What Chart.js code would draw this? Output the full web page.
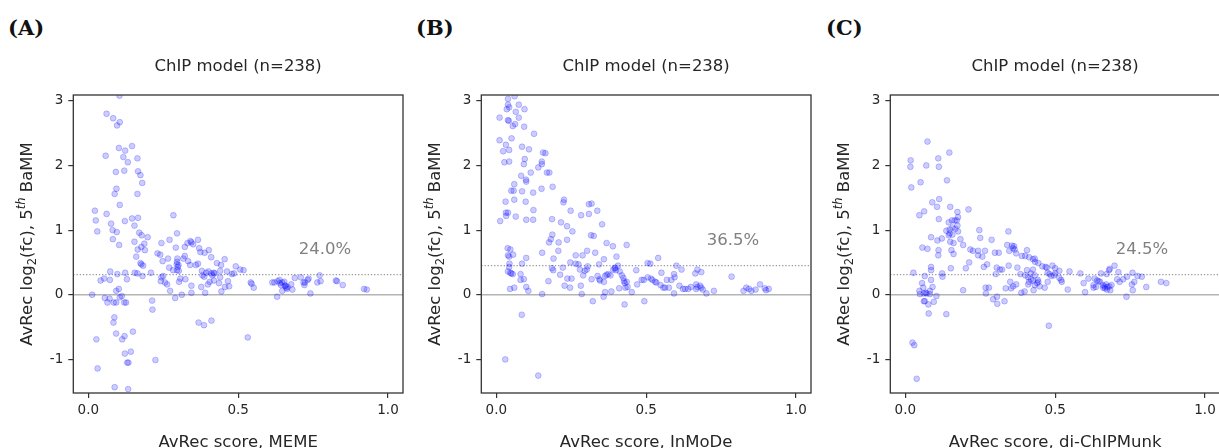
<!DOCTYPE html>
<html>
<head>
<meta charset="utf-8">
<script src="https://cdn.jsdelivr.net/npm/chart.js@4.4.0/dist/chart.umd.min.js"></script>
<style>
  html, body { margin: 0; padding: 0; background: #fff; }
  body { position: relative; width: 1219px; height: 448px; overflow: hidden; }
  canvas { position: absolute; top: 0; }
  .tag { position: absolute; top: 15px; line-height: 1; font: bold 21px "DejaVu Serif", serif; color: #111; }
</style>
</head>
<body>
<div class="tag" style="left:8px">(A)</div>
<div class="tag" style="left:416px">(B)</div>
<div class="tag" style="left:826px">(C)</div>
<canvas id="memeChart" width="408" height="460" style="left:0px"></canvas>
<canvas id="inmodeChart" width="408" height="460" style="left:408px"></canvas>
<canvas id="chipmunkChart" width="408" height="460" style="left:817px"></canvas>
<script>
// shared labels
const panelTitle = 'ChIP model (n=238)';
const xTitles = ['AvRec score, MEME', 'AvRec score, InMoDe', 'AvRec score, di-ChIPMunk'];
const thresholds = [0.31, 0.45, 0.31];
const shares = ['24.0%', '36.5%', '24.5%'];
const xTicks = [0, 0.5, 1.0];
const xTickLabels = ['0.0', '0.5', '1.0'];
const yTicks = [-1, 0, 1, 2, 3];

// (A) MEME
const memeX = [
  0.104,0.061,0.083,0.105,0.096,0.146,0.102,0.123,0.058,0.117,
  0.164,0.132,0.092,0.120,0.166,0.174,0.180,0.094,0.088,0.164,
  0.105,0.022,0.061,0.025,0.122,0.146,0.166,0.076,0.154,0.030,
  0.081,0.095,0.170,0.178,0.198,0.082,0.154,0.103,0.187,0.177,
  0.165,0.189,0.160,0.174,0.177,0.183,
  0.284,0.296,0.244,0.271,0.292,0.231,0.240,0.266,0.248,0.297,
  0.296,0.295,0.301,0.299,0.270,0.283,0.296,0.302,
  0.322,0.331,0.341,0.344,0.350,0.366,0.370,0.374,0.388,0.402,
  0.322,0.317,0.333,0.340,0.359,0.366,0.410,0.429,0.455,0.443,
  0.492,0.507,0.518,0.479,0.486,0.463,0.440,0.419,0.411,0.393,
  0.379,0.381,0.387,0.401,0.414,0.421,0.440,0.466,0.470,0.456,
  0.444,0.436,0.419,0.405,0.399,0.377,0.390,0.344,0.344,0.324,
  0.312,0.290,0.273,0.263,0.256,0.242,0.244,0.250,0.303,0.307,
  0.368,0.386,0.411,0.213,0.214,0.224,
  0.013,0.041,0.053,0.073,0.072,0.097,0.123,0.129,0.155,0.164,
  0.181,0.209,0.055,0.064,0.071,0.085,0.093,0.093,0.102,0.105,
  0.112,0.120,0.126,0.087,0.084,0.093,0.027,0.113,0.121,0.149,
  0.122,0.142,0.130,0.134,0.031,0.088,0.133,
  0.542,0.545,0.552,0.532,0.614,0.621,0.632,0.638,0.640,0.643,
  0.647,0.654,0.656,0.663,0.660,0.665,0.647,0.658,0.677,0.681,
  0.630,0.689,0.709,0.718,0.721,0.723,0.732,0.735,0.741,0.764,
  0.772,0.775,0.826,0.830,0.849,0.920,0.929
];
const memeY = [
  3.08,2.80,2.73,2.67,2.62,2.30,2.27,2.23,2.15,2.13,
  2.11,2.05,1.90,1.92,1.91,1.85,1.73,1.64,1.56,1.56,
  1.39,1.30,1.25,1.15,1.14,1.18,1.19,1.10,1.07,0.98,
  1.00,0.97,0.96,0.92,0.89,0.86,0.82,0.77,0.79,0.74,
  0.70,0.69,0.59,0.49,0.47,0.45,
  1.23,0.95,0.80,0.85,0.73,0.64,0.62,0.56,0.52,0.56,
  0.51,0.47,0.46,0.43,0.42,0.38,0.38,0.37,
  0.74,0.80,0.83,0.81,0.78,0.85,0.72,0.66,0.65,0.69,
  0.60,0.56,0.52,0.46,0.46,0.48,0.58,0.49,0.55,0.46,
  0.44,0.39,0.38,0.32,0.33,0.36,0.37,0.34,0.33,0.34,
  0.37,0.30,0.28,0.36,0.30,0.33,0.27,0.21,0.13,0.12,
  0.05,0.18,0.22,0.20,0.16,0.12,0.03,0.03,0.14,0.24,
  0.00,-0.05,0.06,0.16,0.19,0.21,0.27,0.29,0.20,0.25,
  -0.43,-0.47,-0.40,-0.09,-0.23,-1.01,
  0.00,0.22,0.25,0.36,0.23,0.32,0.34,0.24,0.34,0.33,
  0.29,0.34,-0.05,-0.12,-0.06,-0.12,-0.12,0.06,0.09,-0.04,
  -0.02,-0.12,-0.12,-0.35,-0.43,-0.60,-0.69,-0.69,-0.64,-0.57,
  -0.91,-0.88,-1.05,-1.05,-1.14,-1.43,-1.46,
  0.19,0.17,0.11,-0.66,0.19,0.19,0.21,0.23,0.18,0.15,
  0.19,0.20,0.14,0.09,0.11,0.12,0.06,0.14,0.16,0.08,
  -0.03,0.26,0.27,0.19,0.15,0.19,0.23,0.25,0.02,0.19,
  0.30,0.21,0.22,0.21,0.15,0.09,0.08
];

// (B) InMoDe
const inmodeX = [
  0.039,0.061,0.011,0.039,0.043,0.035,0.075,0.094,0.065,0.075,
  0.039,0.042,0.055,0.063,0.093,0.126,0.051,0.011,0.032,0.023,
  0.043,0.086,0.109,0.027,0.043,0.095,0.092,0.115,0.140,0.152,
  0.152,0.156,0.164,0.169,0.177,0.083,0.099,0.100,0.060,0.188,
  0.050,0.058,0.086,0.123,0.151,0.031,0.060,0.098,0.226,0.224,
  0.124,0.032,0.039,0.033,0.013,0.065,0.100,0.123,0.186,0.248,
  0.283,0.309,0.309,0.318,0.337,0.353,0.216,0.236,0.254,0.187,
  0.182,0.176,0.208,0.236,0.316,0.325,0.303,0.330,0.368,0.389,
  0.435,0.207,0.191,0.038,0.047,0.039,0.043,0.056,0.100,0.044,
  0.086,0.043,0.039,0.047,0.050,0.055,0.081,0.092,0.081,0.046,
  0.060,0.100,0.107,0.153,0.153,0.085,0.030,0.140,0.174,0.186,
  0.190,0.222,0.213,0.228,0.246,0.237,0.251,0.247,0.265,0.265,
  0.274,0.288,0.279,0.290,0.295,0.302,0.305,0.282,0.285,0.318,
  0.322,0.343,0.359,0.338,0.344,0.346,0.363,0.359,0.368,0.374,
  0.381,0.390,0.395,0.399,0.397,0.401,0.406,0.412,0.419,0.424,
  0.426,0.429,0.435,0.438,0.431,0.410,0.384,0.363,0.358,0.452,
  0.428,0.467,0.470,0.485,0.492,0.494,0.505,0.514,0.505,0.516,
  0.521,0.530,0.534,0.540,0.551,0.548,0.557,0.563,0.569,0.576,
  0.584,0.593,0.595,0.601,0.593,0.611,0.618,0.623,0.630,0.640,
  0.649,0.664,0.671,0.684,0.667,0.671,0.667,0.680,0.684,0.689,
  0.701,0.726,0.785,0.825,0.834,0.843,0.851,0.865,0.880,0.896,
  0.900,0.909
];
const inmodeY = [
  3.03,3.07,2.74,2.94,2.90,2.87,2.94,2.87,2.83,2.74,
  2.70,2.69,2.61,2.64,2.60,2.49,2.42,2.39,2.32,2.22,
  2.24,2.29,2.25,2.05,2.06,2.10,2.02,1.89,1.97,2.06,
  2.02,2.20,2.19,1.89,1.89,1.84,1.78,1.75,1.71,1.67,
  1.61,1.61,1.60,1.58,1.64,1.44,1.47,1.44,1.47,1.43,
  1.31,1.27,1.27,1.22,1.14,1.21,1.16,1.16,1.17,1.30,
  1.23,1.25,1.40,1.41,1.30,1.09,1.12,1.06,0.98,0.93,
  0.86,0.81,0.81,0.85,0.92,0.91,0.68,0.65,0.80,0.75,
  0.77,0.68,0.56,0.72,0.70,0.61,0.59,0.62,0.57,0.48,
  0.48,0.43,0.36,0.34,0.33,0.32,0.32,0.24,0.23,0.09,
  0.11,0.12,0.06,0.65,0.01,-0.31,-1.00,-1.25,0.21,0.41,
  0.38,0.42,0.31,0.14,0.11,0.25,0.25,0.50,0.61,0.48,
  0.47,0.61,0.39,0.30,0.37,0.39,0.44,0.14,0.01,0.24,
  -0.10,0.47,0.55,0.29,0.24,0.22,0.29,0.20,0.31,0.32,
  0.30,0.39,0.41,0.38,0.42,0.59,0.45,0.36,0.30,0.26,
  0.21,0.18,0.20,0.12,0.11,0.10,0.05,0.04,-0.03,0.04,
  -0.15,0.38,0.16,0.23,0.23,-0.10,0.49,0.48,0.27,0.25,
  0.23,0.20,0.19,0.57,0.34,0.15,0.11,0.11,0.23,0.11,
  0.23,0.32,0.27,0.45,0.02,0.14,0.39,0.09,0.09,0.09,
  0.12,0.33,0.39,0.35,0.16,0.12,0.09,0.14,0.11,0.08,
  0.02,0.06,0.28,0.06,0.11,0.09,0.06,0.08,0.16,0.10,
  0.07,0.09
];

// (C) di-ChIPMunk
const chipmunkX = [
  0.074,0.147,0.018,0.110,0.017,0.070,0.112,0.051,0.139,0.020,
  0.090,0.113,0.106,0.150,0.211,0.063,0.174,0.047,0.176,0.112,
  0.156,0.165,0.172,0.145,0.174,0.157,0.167,0.148,0.137,0.176,
  0.148,0.157,0.145,0.247,0.344,0.250,0.288,0.086,0.122,0.184,
  0.107,0.150,0.161,0.193,0.057,0.074,0.111,0.154,0.217,0.226,
  0.243,0.266,0.340,0.356,0.363,0.359,0.365,0.347,0.299,0.312,
  0.406,0.370,0.161,0.110,0.243,0.257,0.389,0.400,0.413,0.426,
  0.432,0.433,0.444,0.457,0.472,0.468,0.491,0.500,0.514,0.213,
  0.202,0.152,0.273,0.262,0.345,0.374,0.305,0.316,0.323,0.086,
  0.086,0.027,0.123,0.124,0.065,0.086,0.302,0.384,0.400,0.406,
  0.426,0.419,0.432,0.410,0.419,0.426,0.413,0.410,0.432,0.442,
  0.444,0.440,0.448,0.465,0.475,0.475,0.481,0.487,0.496,0.500,
  0.514,0.520,0.522,0.548,0.542,0.584,0.595,0.600,0.611,0.628,
  0.632,0.640,0.645,0.650,0.653,0.628,0.636,0.659,0.665,0.670,
  0.666,0.675,0.681,0.688,0.660,0.673,0.684,0.672,0.680,0.682,
  0.698,0.711,0.707,0.715,0.727,0.740,0.758,0.764,0.756,0.759,
  0.775,0.789,0.804,0.738,0.853,0.871,0.479,0.350,0.353,0.360,
  0.370,0.335,0.387,0.398,0.428,0.268,0.279,0.269,0.293,0.306,
  0.307,0.331,0.193,0.137,0.104,0.095,0.077,0.078,0.062,0.065,
  0.047,0.049,0.062,0.068,0.071,0.082,0.056,0.060,0.091,0.082,
  0.024,0.030,0.038
];
const chipmunkY = [
  2.37,2.20,2.08,2.11,1.98,2.00,1.98,1.74,1.77,1.66,
  1.43,1.48,1.36,1.36,1.32,1.29,1.28,1.23,1.20,1.17,
  1.15,1.15,1.15,1.12,1.07,1.04,1.02,1.01,0.99,0.98,
  0.95,0.93,0.92,1.00,0.98,0.88,0.85,0.89,0.87,0.86,
  0.84,0.82,0.80,0.77,0.73,0.71,0.69,0.69,0.70,0.68,
  0.68,0.68,0.77,0.76,0.75,0.72,0.70,0.68,0.65,0.65,
  0.69,0.64,0.63,0.61,0.61,0.59,0.60,0.60,0.58,0.55,
  0.56,0.51,0.49,0.44,0.42,0.43,0.45,0.41,0.37,0.50,
  0.41,0.41,0.47,0.43,0.45,0.42,0.42,0.39,0.39,0.43,
  0.38,0.34,0.33,0.28,0.29,0.23,0.32,0.32,0.30,0.38,
  0.39,0.33,0.30,0.27,0.24,0.22,0.20,0.16,0.15,0.23,
  0.20,0.18,0.13,0.11,0.20,0.34,0.32,0.29,0.30,0.33,
  0.26,0.23,0.20,0.36,0.08,0.33,0.18,0.04,0.25,0.15,
  0.25,0.22,0.21,0.20,0.33,0.11,0.12,0.15,0.13,0.16,
  0.10,0.12,0.13,0.15,0.11,0.08,0.07,0.32,0.38,0.40,
  0.45,0.35,0.24,0.20,0.24,0.28,0.34,0.20,0.16,0.07,
  0.29,0.28,0.12,-0.03,0.20,0.18,-0.48,0.20,0.10,0.13,
  0.16,0.10,0.03,0.05,0.07,0.11,0.11,0.02,-0.07,-0.03,
  -0.14,-0.10,0.07,-0.30,-0.02,-0.11,-0.15,-0.29,-0.10,-0.10,
  0.06,0.01,0.02,0.03,0.02,0.01,0.18,0.11,0.12,0.06,
  -0.74,-0.78,-1.30
];

Chart.defaults.font.family = '"DejaVu Sans", sans-serif';
Chart.defaults.color = '#262626';

const TEXT_SIZE = 16.5;

// title, y title (with sub/superscript), frame, zero + threshold lines, share label
const panelDecor = {
  id: 'panelDecor',
  beforeDatasetsDraw(chart, args, opts) {
    const { ctx, chartArea: a, scales: { y } } = chart;
    ctx.save();
    const y0 = y.getPixelForValue(0);
    ctx.strokeStyle = '#b4b4b4';
    ctx.lineWidth = 1.3;
    ctx.beginPath(); ctx.moveTo(a.left, y0); ctx.lineTo(a.right, y0); ctx.stroke();
    const yt = y.getPixelForValue(opts.threshold);
    ctx.strokeStyle = '#9a9a9a';
    ctx.lineWidth = 1.2;
    ctx.setLineDash([1.3, 1.9]);
    ctx.beginPath(); ctx.moveTo(a.left, yt); ctx.lineTo(a.right, yt); ctx.stroke();
    ctx.restore();
  },
  afterDraw(chart, args, opts) {
    const { ctx, chartArea: a, scales: { x, y } } = chart;
    ctx.save();
    // frame
    ctx.strokeStyle = '#333';
    ctx.lineWidth = 1.3;
    ctx.strokeRect(a.left, a.top, a.right - a.left, a.bottom - a.top);

    // share label
    ctx.fillStyle = '#808080';
    ctx.font = TEXT_SIZE + 'px "DejaVu Sans"';
    ctx.textAlign = 'center';
    ctx.textBaseline = 'middle';
    ctx.fillText(opts.share, x.getPixelForValue(0.79), y.getPixelForValue(opts.threshold) - 25);

    // panel title
    ctx.fillStyle = '#262626';
    ctx.fillText(panelTitle, (a.left + a.right) / 2, 67);

    // y title: AvRec log2(fc), 5th BaMM
    const main = TEXT_SIZE + 'px "DejaVu Sans"';
    const small = '11.5px "DejaVu Sans"';
    const smallIt = 'italic 11.5px "DejaVu Sans"';
    const parts = [
      ['AvRec log', main, 0],
      ['2', small, 4],
      ['(fc), 5', main, 0],
      ['th', smallIt, -7],
      [' BaMM', main, 0]
    ];
    let total = 0;
    parts.forEach(p => { ctx.font = p[1]; total += ctx.measureText(p[0]).width; });
    ctx.translate(25, (a.top + a.bottom) / 2);
    ctx.rotate(-Math.PI / 2);
    ctx.textAlign = 'left';
    ctx.textBaseline = 'alphabetic';
    let cx = -total / 2;
    parts.forEach(p => {
      ctx.font = p[1];
      ctx.fillText(p[0], cx, 6.5 + p[2]);
      cx += ctx.measureText(p[0]).width;
    });
    ctx.restore();
  }
};

function makePanel(canvasId, xs, ys, xTitle, threshold, share) {
  const points = xs.map((v, i) => ({ x: v, y: ys[i] }));
  return new Chart(document.getElementById(canvasId), {
    type: 'scatter',
    data: {
      datasets: [{
        data: points,
        backgroundColor: 'rgba(0, 0, 255, 0.2)',
        borderColor: 'rgba(0, 0, 255, 0.22)',
        borderWidth: 1,
        pointRadius: 2.9
      }]
    },
    options: {
      responsive: false,
      devicePixelRatio: 1,
      animation: false,
      events: [],
      layout: { padding: { top: 95, right: 3, bottom: 0, left: 0 } },
      plugins: {
        legend: { display: false },
        tooltip: { enabled: false },
        panelDecor: { threshold, share }
      },
      scales: {
        x: {
          type: 'linear',
          min: -0.05,
          max: 1.05,
          afterBuildTicks: s => { s.ticks = xTicks.map(v => ({ value: v })); },
          afterFit: s => { s.height = 67; },
          ticks: {
            callback: (v) => xTickLabels[xTicks.indexOf(v)],
            font: { size: 13.5 },
            color: '#262626',
            padding: 4,
            maxRotation: 0
          },
          grid: { display: true, drawOnChartArea: false, drawTicks: true, tickLength: 5, color: '#333', lineWidth: 1.2 },
          border: { display: false },
          title: {
            display: true,
            text: xTitle,
            font: { size: TEXT_SIZE },
            color: '#262626',
            padding: { top: 0, bottom: 7 }
          }
        },
        y: {
          type: 'linear',
          min: -1.52,
          max: 3.09,
          afterBuildTicks: s => { s.ticks = yTicks.map(v => ({ value: v })); },
          afterFit: s => { s.width = 73.3; },
          ticks: {
            callback: v => String(v),
            font: { size: 13.5 },
            color: '#262626',
            padding: 5
          },
          grid: { display: true, drawOnChartArea: false, drawTicks: true, tickLength: 5, color: '#333', lineWidth: 1.2 },
          border: { display: false }
        }
      }
    },
    plugins: [panelDecor]
  });
}

makePanel('memeChart', memeX, memeY, xTitles[0], thresholds[0], shares[0]);
makePanel('inmodeChart', inmodeX, inmodeY, xTitles[1], thresholds[1], shares[1]);
makePanel('chipmunkChart', chipmunkX, chipmunkY, xTitles[2], thresholds[2], shares[2]);
</script>
</body>
</html>
